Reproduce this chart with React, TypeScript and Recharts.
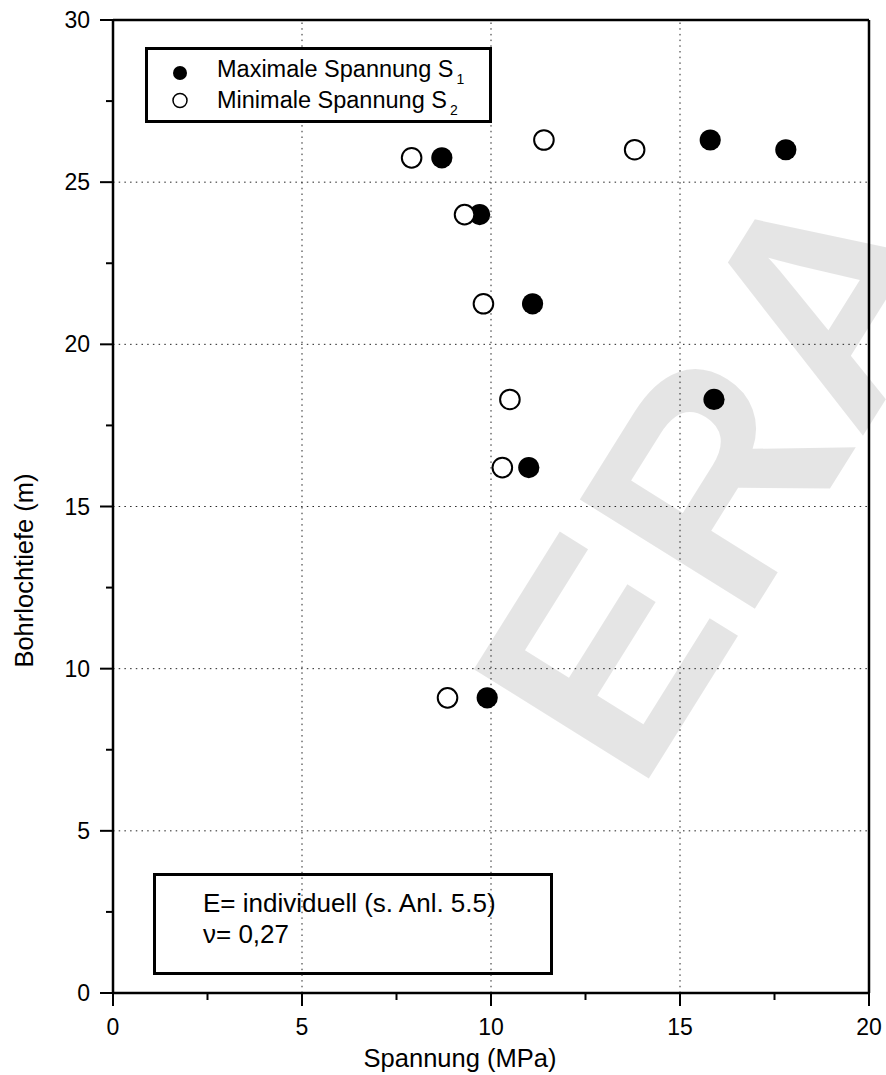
import React from 'react';
import { ScatterChart, Scatter, XAxis, YAxis, ReferenceLine, Legend, Customized, Label } from 'recharts';

const depths = [25.75, 24.0, 21.25, 26.3, 26.0, 18.3, 16.2, 9.1];
const maxStress = [8.7, 9.7, 11.1, 15.8, 17.8, 15.9, 11.0, 9.9];
const minStress = [7.9, 9.3, 9.8, 11.4, 13.8, 10.5, 10.3, 8.85];
const seriesNames = ['Maximale Spannung S', 'Minimale Spannung S'];
const seriesSubs = ['1', '2'];
const xTicks = [0, 2.5, 5, 7.5, 10, 12.5, 15, 17.5, 20];
const yTicks = [0, 2.5, 5, 7.5, 10, 12.5, 15, 17.5, 20, 22.5, 25, 27.5, 30];
const majorStep = 5;
const gridX = [5, 10, 15];
const gridY = [5, 10, 15, 20, 25];
const xTitle = 'Spannung (MPa)';
const yTitle = 'Bohrlochtiefe (m)';
const noteLines = ['E= individuell (s. Anl. 5.5)', 'ν= 0,27'];
const watermark = 'ERA';

const FONT = '"Liberation Sans", Arial, Helvetica, sans-serif';

const s1Data = depths.map((d, i) => ({ x: maxStress[i], y: d }));
const s2Data = depths.map((d, i) => ({ x: minStress[i], y: d }));

const isMajor = (v: number) => Math.abs(v % majorStep) < 1e-9;

const XTick = (props: any) => {
  const { x, y, payload } = props;
  const v = payload.value;
  const major = isMajor(v);
  return (
    <g>
      <line x1={x} x2={x} y1={y} y2={y + (major ? 13 : 7)} stroke="#000" strokeWidth={2} />
      {major && (
        <text x={x} y={y + 42} textAnchor="middle" fontSize={23} fontFamily={FONT} fill="#000">
          {v}
        </text>
      )}
    </g>
  );
};

const YTick = (props: any) => {
  const { x, y, payload } = props;
  const v = payload.value;
  const major = isMajor(v);
  return (
    <g>
      <line x1={x} x2={x - (major ? 13 : 7)} y1={y} y2={y} stroke="#000" strokeWidth={2} />
      {major && (
        <text x={x - 23} y={y + 8} textAnchor="end" fontSize={23} fontFamily={FONT} fill="#000">
          {v}
        </text>
      )}
    </g>
  );
};

const TopTick = (props: any) => {
  const { x, y } = props;
  return <line x1={x} x2={x} y1={y} y2={y + 4} stroke="#000" strokeWidth={2} />;
};

const RightTick = (props: any) => {
  const { x, y } = props;
  return <line x1={x} x2={x - 4} y1={y} y2={y} stroke="#000" strokeWidth={2} />;
};

const FilledDot = (props: any) => <circle cx={props.cx} cy={props.cy} r={10.6} fill="#000" />;
const OpenDot = (props: any) => (
  <circle cx={props.cx} cy={props.cy} r={9.8} fill="#fff" stroke="#000" strokeWidth={2} />
);

const renderLegend = (props: any) => {
  const payload = props.payload || [];
  return (
    <svg width={348} height={76} style={{ display: 'block' }}>
      <rect x={1.5} y={1.5} width={344} height={73} fill="#fff" stroke="#000" strokeWidth={3} />
      {payload.map((p: any, i: number) => {
        const cy = 26 + i * 27.5;
        const by = 30 + i * 31;
        return (
          <g key={i}>
            {i === 0 ? (
              <circle cx={35} cy={cy} r={7} fill="#000" />
            ) : (
              <circle cx={35} cy={cy} r={7} fill="#fff" stroke="#000" strokeWidth={1.5} />
            )}
            <text x={72} y={by} fontSize={23.5} fontFamily={FONT} fill="#000">
              {seriesNames[i]}
              <tspan dx={3} dy={7} fontSize={14}>
                {seriesSubs[i]}
              </tspan>
            </text>
          </g>
        );
      })}
    </svg>
  );
};

const Note = () => (
  <g>
    <rect x={154.5} y={874.5} width={397} height={99} fill="#fff" stroke="#000" strokeWidth={3} />
    {noteLines.map((t, i) => (
      <text key={i} x={203} y={912 + i * 31} fontSize={26} fontFamily={FONT} fill="#000">
        {t}
      </text>
    ))}
  </g>
);

const Watermark = () => (
  <text
    x={806}
    y={527}
    transform="rotate(-58 806 527)"
    textAnchor="middle"
    fontSize={300}
    fontWeight="bold"
    fontFamily={FONT}
    fill="rgba(0,0,0,0.1)"
    style={{ pointerEvents: 'none' }}
  >
    {watermark}
  </text>
);

const XTitle = (props: any) => {
  const vb = props.viewBox || { x: 113, y: 993, width: 756 };
  return (
    <text x={vb.x + vb.width / 2 - 31} y={vb.y + 74} textAnchor="middle" fontSize={25.5} fontFamily={FONT} fill="#000">
      {xTitle}
    </text>
  );
};

const YTitle = (props: any) => {
  const vb = props.viewBox || { x: 0, y: 20, height: 973 };
  const cx = 33;
  const cy = vb.y + vb.height / 2 + 64;
  return (
    <text x={cx} y={cy} transform={`rotate(-90 ${cx} ${cy})`} textAnchor="middle" fontSize={25.5} fontFamily={FONT} fill="#000">
      {yTitle}
    </text>
  );
};

export default function App() {
  return (
    <div style={{ position: 'absolute', left: 0, top: 0, width: 886, height: 1075, background: '#fff' }}>
      <ScatterChart width={886} height={1075} margin={{ top: 0, right: 0, bottom: 0, left: 0 }}>
        <XAxis
          type="number"
          dataKey="x"
          domain={[0, 20]}
          ticks={xTicks}
          interval={0}
          height={82}
          tickSize={0}
          tickMargin={0}
          tickLine={false}
          tick={<XTick />}
          axisLine={{ stroke: '#000', strokeWidth: 2.5 }}
          allowDataOverflow
        >
          <Label content={<XTitle />} />
        </XAxis>
        <XAxis
          xAxisId="top"
          orientation="top"
          type="number"
          dataKey="x"
          domain={[0, 20]}
          ticks={xTicks}
          interval={0}
          height={20}
          tickSize={0}
          tickMargin={0}
          tickLine={false}
          tick={<TopTick />}
          axisLine={{ stroke: '#000', strokeWidth: 2.5 }}
        />
        <YAxis
          type="number"
          dataKey="y"
          domain={[0, 30]}
          ticks={yTicks}
          interval={0}
          width={113}
          tickSize={0}
          tickMargin={0}
          tickLine={false}
          tick={<YTick />}
          axisLine={{ stroke: '#000', strokeWidth: 2.5 }}
          allowDataOverflow
        >
          <Label content={<YTitle />} />
        </YAxis>
        <YAxis
          yAxisId="right"
          orientation="right"
          type="number"
          dataKey="y"
          domain={[0, 30]}
          ticks={yTicks}
          interval={0}
          width={17}
          tickSize={0}
          tickMargin={0}
          tickLine={false}
          tick={<RightTick />}
          axisLine={{ stroke: '#000', strokeWidth: 2.5 }}
        />
        {gridX.map((v) => (
          <ReferenceLine key={'gx' + v} x={v} stroke="#222" strokeWidth={1} strokeDasharray="1.5 4.2" />
        ))}
        {gridY.map((v) => (
          <ReferenceLine key={'gy' + v} y={v} stroke="#222" strokeWidth={1} strokeDasharray="1.5 4.2" />
        ))}
        <Customized component={Note} />
        <Scatter name={seriesNames[0] + seriesSubs[0]} data={s1Data} fill="#000" shape={<FilledDot />} isAnimationActive={false} />
        <Scatter name={seriesNames[1] + seriesSubs[1]} data={s2Data} fill="#fff" shape={<OpenDot />} isAnimationActive={false} />
        <Customized component={Watermark} />
        <Legend
          layout="vertical"
          align="center"
          verticalAlign="middle"
          content={renderLegend}
          wrapperStyle={{ position: 'absolute', left: 145, top: 47, width: 348, height: 76, margin: 0 }}
        />
      </ScatterChart>
    </div>
  );
}
